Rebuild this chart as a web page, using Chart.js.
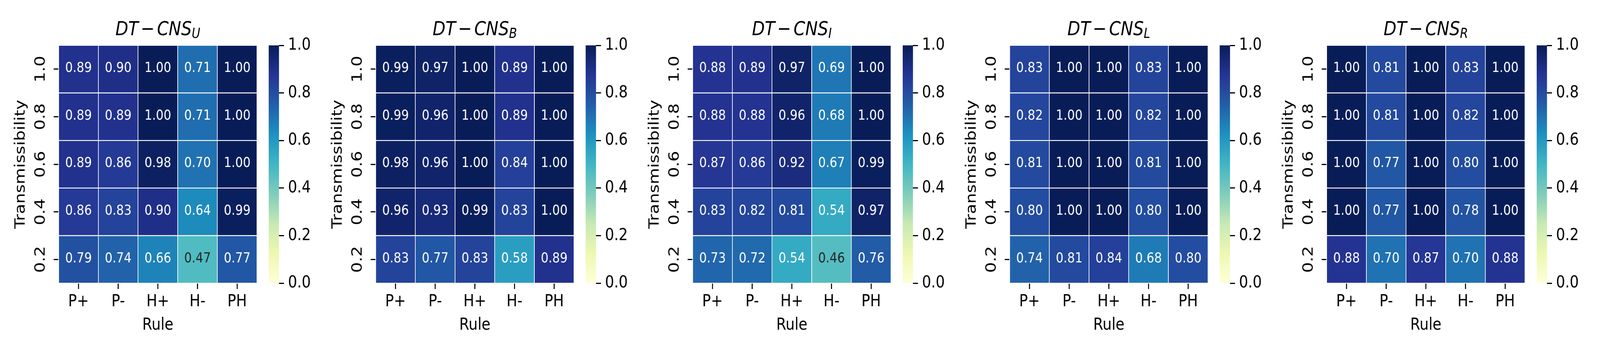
<!DOCTYPE html>
<html>
<head>
<meta charset="utf-8">
<script src="https://cdn.jsdelivr.net/npm/chart.js@4.4.1/dist/chart.umd.min.js"></script>
<style>
  html, body { margin: 0; padding: 0; background: #fff; overflow: hidden; }
  #fig { position: absolute; left: 0; top: 0; width: 4800px; height: 900px; transform-origin: 0 0; font-family: 'DejaVu Sans'; }
  canvas { position: absolute; top: 0; }
  .title { position: absolute; top: 48px; width: 595px; text-align: center; font-size: 50px; line-height: 50px; font-style: italic; white-space: nowrap; color: #000; }
  .title sub { font-size: 35px; vertical-align: -7px; line-height: 0; }
  .title .op { font-style: normal; margin: 0 7px; }
</style>
</head>
<body>
<div id="fig"></div>
<script>
// axes
const rules = ['P+', 'P-', 'H+', 'H-', 'PH'];
const levels = ['1.0', '0.8', '0.6', '0.4', '0.2'];   // top row first

// one matrix per panel, rows follow `levels`, columns follow `rules`
const cnsU = [
  [0.89, 0.90, 1.00, 0.71, 1.00],
  [0.89, 0.89, 1.00, 0.71, 1.00],
  [0.89, 0.86, 0.98, 0.70, 1.00],
  [0.86, 0.83, 0.90, 0.64, 0.99],
  [0.79, 0.74, 0.66, 0.47, 0.77]
];
const cnsB = [
  [0.99, 0.97, 1.00, 0.89, 1.00],
  [0.99, 0.96, 1.00, 0.89, 1.00],
  [0.98, 0.96, 1.00, 0.84, 1.00],
  [0.96, 0.93, 0.99, 0.83, 1.00],
  [0.83, 0.77, 0.83, 0.58, 0.89]
];
const cnsI = [
  [0.88, 0.89, 0.97, 0.69, 1.00],
  [0.88, 0.88, 0.96, 0.68, 1.00],
  [0.87, 0.86, 0.92, 0.67, 0.99],
  [0.83, 0.82, 0.81, 0.54, 0.97],
  [0.73, 0.72, 0.54, 0.46, 0.76]
];
const cnsL = [
  [0.83, 1.00, 1.00, 0.83, 1.00],
  [0.82, 1.00, 1.00, 0.82, 1.00],
  [0.81, 1.00, 1.00, 0.81, 1.00],
  [0.80, 1.00, 1.00, 0.80, 1.00],
  [0.74, 0.81, 0.84, 0.68, 0.80]
];
const cnsR = [
  [1.00, 0.81, 1.00, 0.83, 1.00],
  [1.00, 0.81, 1.00, 0.82, 1.00],
  [1.00, 0.77, 1.00, 0.80, 1.00],
  [1.00, 0.77, 1.00, 0.78, 1.00],
  [0.88, 0.70, 0.87, 0.70, 0.88]
];
const subs = ['U', 'B', 'I', 'L', 'R'];
const matrices = [cnsU, cnsB, cnsI, cnsL, cnsR];
const colorRange = [0, 1];
const cbarStep = 0.2;

// YlGnBu stops
const ylgnbu = ['#ffffd9', '#edf8b1', '#c7e9b4', '#7fcdbb', '#41b6c4', '#1d91c0', '#225ea8', '#253494', '#081d58'];
const hex = h => [1, 3, 5].map(i => parseInt(h.substr(i, 2), 16));

function cmap(v) {
  let t = (v - colorRange[0]) / (colorRange[1] - colorRange[0]);
  t = Math.min(Math.max(t, 0), 1) * (ylgnbu.length - 1);
  const i = Math.min(Math.floor(t), ylgnbu.length - 2);
  const f = t - i;
  const a = hex(ylgnbu[i]), b = hex(ylgnbu[i + 1]);
  return a.map((c, k) => Math.round(c + (b[k] - c) * f));
}

// same rule seaborn uses to pick the annotation colour
function textColor(rgb) {
  const lin = rgb.map(c => {
    c = c / 255;
    return c <= 0.03928 ? c / 12.92 : Math.pow((c + 0.055) / 1.055, 2.4);
  });
  const lum = 0.2126 * lin[0] + 0.7152 * lin[1] + 0.0722 * lin[2];
  return lum > 0.408 ? 'rgb(38,38,38)' : '#ffffff';
}

// the figure is laid out at 4800x900, stretch it over the real viewport
const fig = document.getElementById('fig');
const sx = (window.innerWidth || 4800) / 4800;
const sy = (window.innerHeight || 900) / 900;
fig.style.transform = 'scale(' + sx + ',' + sy + ')';
const DPR = (window.devicePixelRatio || 1) * Math.max(sx, sy);

Chart.defaults.font.family = "'DejaVu Sans'";
Chart.defaults.color = '#000';

const FONT = 43;

const cellPlugin = {
  id: 'cells',
  beforeDatasetsDraw(chart) {
    const {ctx, scales} = chart;
    const w = Math.abs(scales.x.getPixelForValue(1) - scales.x.getPixelForValue(0));
    const h = Math.abs(scales.y.getPixelForValue(1) - scales.y.getPixelForValue(0));
    const meta = chart.getDatasetMeta(0);
    const pts = chart.data.datasets[0].data;
    ctx.save();
    meta.data.forEach((el, i) => {
      const c = cmap(pts[i].v);
      ctx.fillStyle = 'rgb(' + c.join(',') + ')';
      ctx.fillRect(el.x - w / 2, el.y - h / 2, w, h);
    });
    ctx.strokeStyle = '#fff';
    ctx.lineWidth = 2;
    meta.data.forEach(el => {
      ctx.strokeRect(el.x - w / 2, el.y - h / 2, w, h);
    });
    ctx.font = "36px 'DejaVu Sans'";
    ctx.textAlign = 'center';
    ctx.textBaseline = 'middle';
    meta.data.forEach((el, i) => {
      const v = pts[i].v;
      ctx.fillStyle = textColor(cmap(v));
      ctx.fillText(v.toFixed(2), el.x, el.y - 2);
    });
    ctx.restore();
  }
};

const tickGrid = {
  display: true,
  drawOnChartArea: false,
  drawTicks: true,
  tickLength: 15,
  tickWidth: 3,
  tickColor: '#000',
  offset: false
};

function addTitle(left, sub) {
  const d = document.createElement('div');
  d.className = 'title';
  d.style.left = left + 'px';
  d.innerHTML = 'DT<span class="op">\u2212</span>CNS<sub>' + sub + '</sub>';
  fig.appendChild(d);
}

function makeCanvas(left, width) {
  const c = document.createElement('canvas');
  c.width = width;
  c.height = 900;
  c.style.left = left + 'px';
  c.style.width = width + 'px';
  c.style.height = '900px';
  fig.appendChild(c);
  return c;
}

matrices.forEach((vals, k) => {
  const ox = 951 * k;

  // heatmap
  const cells = [];
  levels.forEach((lv, r) => {
    rules.forEach((rule, j) => {
      cells.push({x: rule, y: lv, v: vals[r][j]});
    });
  });

  new Chart(makeCanvas(ox, 800), {
    type: 'scatter',
    data: {
      datasets: [{
        data: cells,
        pointRadius: 0,
        pointHoverRadius: 0
      }]
    },
    options: {
      responsive: false,
      animation: false,
      devicePixelRatio: DPR,
      events: [],
      layout: { padding: { top: 116, right: 29, left: 0, bottom: 0 } },
      plugins: { legend: { display: false }, tooltip: { enabled: false } },
      scales: {
        x: {
          type: 'category',
          labels: rules,
          offset: true,
          position: 'bottom',
          grid: tickGrid,
          border: { display: false },
          ticks: { font: { size: FONT }, padding: 7, autoSkip: false, minRotation: 0, maxRotation: 0 },
          title: { display: true, text: 'Rule', font: { size: FONT }, padding: { top: 0, bottom: 42 } },
          afterFit: s => { s.height = 176; }
        },
        y: {
          type: 'category',
          labels: levels,
          offset: true,
          position: 'left',
          grid: tickGrid,
          border: { display: false },
          ticks: { font: { size: FONT }, padding: 4, autoSkip: false, minRotation: 90, maxRotation: 90, crossAlign: 'center' },
          title: { display: true, text: 'Transmissibility', font: { size: FONT }, padding: { top: 37, bottom: 0 } },
          afterFit: s => { s.width = 176; }
        }
      }
    },
    plugins: [cellPlugin]
  });

  addTitle(ox + 176, subs[k]);

  // colorbar
  new Chart(makeCanvas(ox + 780, 171), {
    type: 'bar',
    data: {
      labels: [''],
      datasets: [{
        data: [colorRange],
        barPercentage: 1,
        categoryPercentage: 1,
        borderWidth: 0,
        backgroundColor: ctx => {
          const {chart} = ctx;
          if (!chart.chartArea) return ylgnbu[ylgnbu.length - 1];
          const y = chart.scales.y;
          const g = chart.ctx.createLinearGradient(0, y.getPixelForValue(colorRange[0]), 0, y.getPixelForValue(colorRange[1]));
          ylgnbu.forEach((c, i) => g.addColorStop(i / (ylgnbu.length - 1), c));
          return g;
        }
      }]
    },
    options: {
      responsive: false,
      animation: false,
      devicePixelRatio: DPR,
      events: [],
      layout: { padding: { top: 116, left: 26, right: 0, bottom: 176 } },
      plugins: { legend: { display: false }, tooltip: { enabled: false } },
      scales: {
        x: { display: false },
        y: {
          position: 'right',
          min: colorRange[0],
          max: colorRange[1],
          grid: tickGrid,
          border: { display: false },
          ticks: { stepSize: cbarStep, font: { size: FONT }, padding: 12, callback: v => v.toFixed(1) },
          afterFit: s => { s.width = 114; }
        }
      }
    }
  });
});
</script>
</body>
</html>
